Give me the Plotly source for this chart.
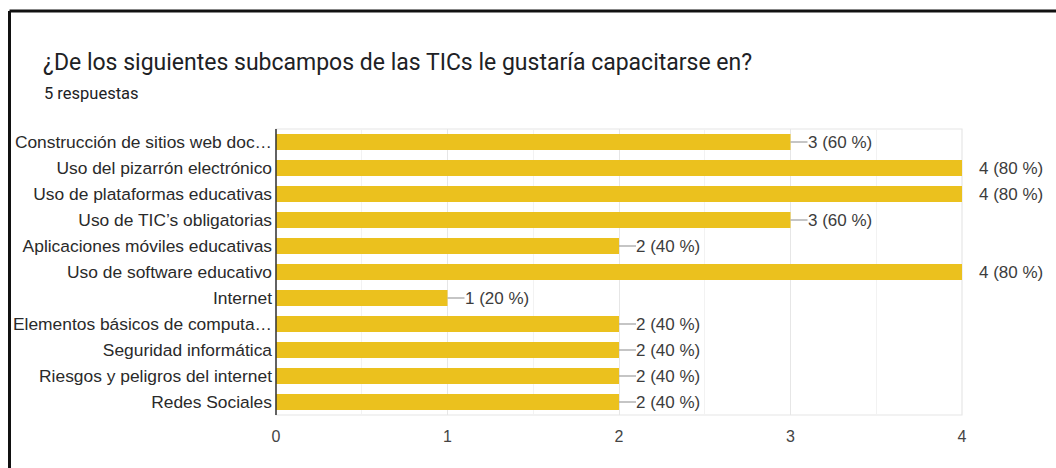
import plotly.graph_objects as go

categories = [
    "Construcción de sitios web doc…",
    "Uso del pizarrón electrónico",
    "Uso de plataformas educativas",
    "Uso de TIC’s obligatorias",
    "Aplicaciones móviles educativas",
    "Uso de software educativo",
    "Internet",
    "Elementos básicos de computa…",
    "Seguridad informática",
    "Riesgos y peligros del internet",
    "Redes Sociales",
]
counts = [3, 4, 4, 3, 2, 4, 1, 2, 2, 2, 2]
total_responses = 5
x_ticks = [0, 1, 2, 3, 4]

W, H = 1056, 468
ML, MT = 276, 129
MR = W - 962
MB = H - 415
PW = W - ML - MR
PH = H - MT - MB
XMAX = 4
px_unit = PW / XMAX


def px_x(page_x):
    return (page_x - ML) / PW


def px_y(page_y):
    return (H - MB - page_y) / PH


labels = [f"{c} ({round(c / total_responses * 100)} %)" for c in counts]

fig = go.Figure()
fig.add_trace(go.Bar(
    x=counts, y=categories, orientation="h",
    marker=dict(color="#ebc11e", line=dict(width=0)),
    hoverinfo="skip",
))

shapes = []
annotations = []
for c, cat, lab in zip(counts, categories, labels):
    if c < XMAX:
        shapes.append(dict(type="line", xref="x", yref="y",
                           x0=c, x1=c + 17 / px_unit, y0=cat, y1=cat,
                           line=dict(color="#9e9e9e", width=1.2)))
    annotations.append(dict(x=c, y=cat, xref="x", yref="y", text=lab,
                            showarrow=False, xanchor="left", yanchor="middle",
                            xshift=15, font=dict(family="Liberation Sans, Arial", size=17, color="#3c3c3c")))

# light plot frame
shapes.append(dict(type="rect", xref="paper", yref="paper", x0=0, x1=1, y0=0, y1=1,
                   line=dict(color="#e6e6e6", width=1.2), layer="below"))
# dark y axis line
shapes.append(dict(type="line", xref="paper", yref="paper", x0=0, x1=0, y0=0, y1=1,
                   line=dict(color="#333333", width=1.5)))
# black frame (left and top)
lx = px_x(9.5)
ty = px_y(11)
shapes.append(dict(type="line", xref="paper", yref="paper", x0=lx, x1=lx,
                   y0=ty, y1=px_y(475), line=dict(color="#111111", width=3)))
shapes.append(dict(type="line", xref="paper", yref="paper", x0=lx, x1=px_x(1065),
                   y0=ty, y1=ty, line=dict(color="#111111", width=3)))

annotations.append(dict(xref="paper", yref="paper", x=px_x(41), y=px_y(63),
                        xanchor="left", yanchor="middle", showarrow=False,
                        text="¿De los siguientes subcampos de las TICs le gustaría capacitarse en?",
                        font=dict(family="Roboto", size=23, color="#202124")))
annotations.append(dict(xref="paper", yref="paper", x=px_x(42), y=px_y(93),
                        xanchor="left", yanchor="middle", showarrow=False,
                        text=f"{total_responses} respuestas",
                        font=dict(family="Roboto", size=16.5, color="#202124")))

fig.update_layout(
    width=W, height=H,
    margin=dict(l=ML, r=MR, t=MT, b=MB, pad=0),
    paper_bgcolor="white", plot_bgcolor="white",
    showlegend=False, bargap=0.385,
    shapes=shapes, annotations=annotations,
    xaxis=dict(range=[0, XMAX], tickvals=x_ticks, showgrid=True, gridcolor="#e6e6e6", gridwidth=1,
               minor=dict(dtick=0.5, showgrid=True, gridcolor="#f2f2f2", gridwidth=1),
               zeroline=False, showline=False, ticks="", ticklabelstandoff=10,
               tickfont=dict(family="Liberation Sans, Arial", size=16, color="#444444")),
    yaxis=dict(autorange="reversed", showgrid=False, zeroline=False, showline=False, ticks="",
               ticklabelstandoff=3,
               tickfont=dict(family="Liberation Sans, Arial", size=17.4, color="#2a2a2a")),
)

fig.write_html("out.html", config={"displayModeBar": False},
               post_script="document.body.style.margin='0';")
